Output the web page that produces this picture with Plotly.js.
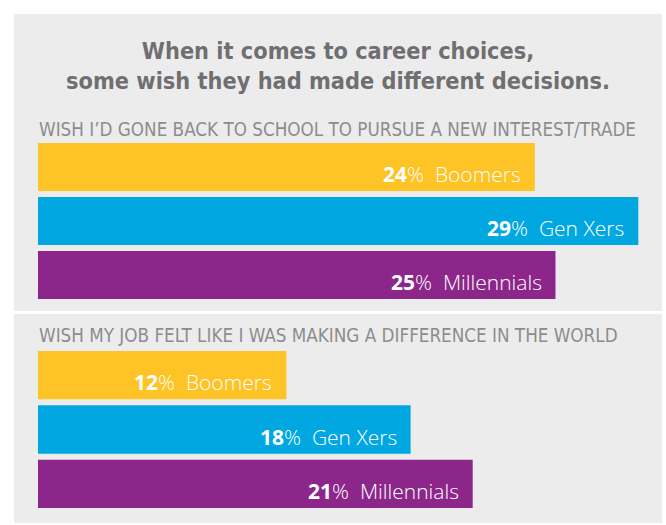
<!DOCTYPE html>
<html><head><meta charset="utf-8">
<script src="https://cdn.plot.ly/plotly-3.0.1.min.js"></script>
<style>html,body{margin:0;padding:0;background:#fff;}#chart{width:666px;height:525px;}</style>
</head><body><div id="chart"></div>
<script>
const groups = ['Boomers', 'Gen Xers', 'Millennials'];
const schoolValues = [24, 29, 25];
const impactValues = [12, 18, 21];
const sectionHeaders = [
  'WISH I\u2019D GONE BACK TO SCHOOL TO PURSUE A NEW INTEREST/TRADE',
  'WISH MY JOB FELT LIKE I WAS MAKING A DIFFERENCE IN THE WORLD'
];
const titleLines = ['When it comes to career choices,', 'some wish they had made different decisions.'];

const barColors = ['#FEC325', '#00A7E1', '#8D268B'];
const W = 666, H = 525;
const px = v => v / W, py = v => 1 - v / H;
const condFont = "'DejaVu Sans Condensed', 'DejaVu Sans', sans-serif";

const traces = [
  {type: 'bar', orientation: 'h', x: schoolValues, y: groups, xaxis: 'x', yaxis: 'y',
   marker: {color: barColors}, hoverinfo: 'none'},
  {type: 'bar', orientation: 'h', x: impactValues, y: groups, xaxis: 'x2', yaxis: 'y2',
   marker: {color: barColors}, hoverinfo: 'none'}
];

const labelAnn = (vals, xr, yr) => vals.map((v, i) => ({
  x: v, y: groups[i], xref: xr, yref: yr, xanchor: 'right', yanchor: 'middle',
  xshift: -12, yshift: -7, showarrow: false,
  text: '<b>' + v + '</b>%\u00a0 ' + groups[i],
  font: {family: 'Open Sans', size: 21, color: '#ffffff', weight: 300}
}));

const xRange = [0, (662 - 38) / 20.7];
const axX = dom => ({domain: dom, range: xRange, showgrid: false, zeroline: false, showticklabels: false, ticks: '', fixedrange: true});
const axY = dom => ({domain: dom, type: 'category', range: [2.5, -0.5], showgrid: false, zeroline: false, showticklabels: false, ticks: '', fixedrange: true});

const layout = {
  width: W, height: H,
  margin: {l: 0, r: 0, t: 0, b: 0},
  paper_bgcolor: '#ffffff', plot_bgcolor: 'rgba(0,0,0,0)',
  showlegend: false, bargap: 0.111,
  title: {text: titleLines.join('<br>'), x: 338 / W, xanchor: 'center', y: 1 - 59 / H, yanchor: 'middle',
          font: {family: condFont, size: 23.3, color: '#6f6f71', weight: 700, stretch: 'condensed'}},
  xaxis: axX([px(38), px(662)]),
  yaxis: axY([py(302), py(140)]),
  xaxis2: axX([px(38), px(662)]),
  yaxis2: axY([py(511), py(348)]),
  shapes: [
    {type: 'rect', xref: 'paper', yref: 'paper', x0: px(14), x1: px(662), y0: py(311), y1: py(14), fillcolor: '#ECECEC', line: {width: 0}, layer: 'below'},
    {type: 'rect', xref: 'paper', yref: 'paper', x0: px(14), x1: px(662), y0: py(523), y1: py(314), fillcolor: '#ECECEC', line: {width: 0}, layer: 'below'}
  ],
  annotations: [
    {text: sectionHeaders[0], xref: 'paper', yref: 'paper', x: px(37), y: py(129), xanchor: 'left', yanchor: 'middle', showarrow: false,
     font: {family: condFont, size: 18.7, color: '#8c8c8e', weight: 300, stretch: 'condensed'}},
    {text: sectionHeaders[1], xref: 'paper', yref: 'paper', x: px(37), y: py(335), xanchor: 'left', yanchor: 'middle', showarrow: false,
     font: {family: condFont, size: 18.7, color: '#8c8c8e', weight: 300, stretch: 'condensed'}}
  ].concat(labelAnn(schoolValues, 'x', 'y'), labelAnn(impactValues, 'x2', 'y2'))
};

Plotly.newPlot('chart', traces, layout, {displayModeBar: false, staticPlot: true});
</script>
</body></html>
